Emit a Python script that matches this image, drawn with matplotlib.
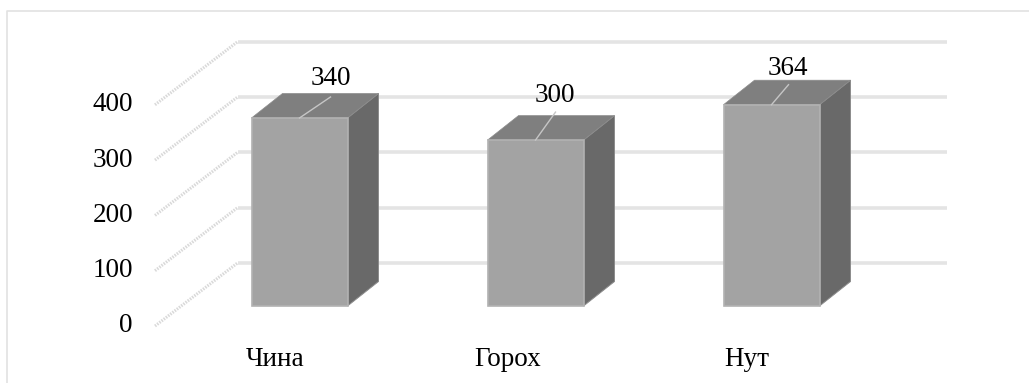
import matplotlib
matplotlib.use("Agg")
import matplotlib.pyplot as plt
from matplotlib.patches import Polygon, Rectangle

categories = ["Чина", "Горох", "Нут"]
values = [340, 300, 364]
y_ticks = [0, 100, 200, 300, 400]

W, H = 1029, 383
PX_PER_UNIT = 0.553
SLOT = 236.0
BASE_PX = 306.0       # pixel row of a bar's front foot
FIRST_PX = 299.5      # pixel column of the first bar's centre

plt.rcParams["font.family"] = "Liberation Serif"
FONT = 19.5

fig = plt.figure(figsize=(W / 100, H / 100), dpi=100, facecolor="white")
ax = fig.add_axes([0, 0, 1, 1])
ax.set_xlim(-FIRST_PX / SLOT, (W - FIRST_PX) / SLOT)
ax.set_ylim(-(H - BASE_PX) / PX_PER_UNIT, BASE_PX / PX_PER_UNIT)
ax.set_autoscale_on(False)
ax.axis("off")


def X(px):
    """Horizontal pixel distance expressed in category units."""
    return px / SLOT


def Y(px):
    """Vertical pixel distance expressed in value units."""
    return px / PX_PER_UNIT


# Panel frame along the top and left
fig.add_artist(plt.Line2D([7 / W, 7 / W, 1], [0, 1 - 10.5 / H, 1 - 10.5 / H],
                          color="#e2e2e2", lw=1.2, transform=fig.transFigure))

# Floor edge of the value wall, and the back wall it leads to
floor_x = X(155 - FIRST_PX)
floor_dy = Y(BASE_PX - 326)
back_x = X(237.5 - FIRST_PX)
back_dy = Y(BASE_PX - 263)
end_x = X(947 - FIRST_PX)
for v in y_ticks:
    ax.plot([floor_x, back_x], [v + floor_dy, v + back_dy], color="#d9d9d9", lw=2.2,
            ls=(0, (0.5, 0.4)), dash_capstyle="butt", zorder=1)
    ax.plot([back_x, end_x], [v + back_dy, v + back_dy], color="#e4e4e4", lw=2.6,
            solid_capstyle="butt", zorder=1)
    ax.text(floor_x - X(22), v + floor_dy, str(v), ha="right", va="center",
            fontsize=FONT, color="black")

# Bars as three visible faces, with a leader to each value label
half = X(48)
dx, dy = X(31), Y(24.5)
leader_tips = [(31, 21), (20, 28), (17, 20)]
label_gaps = [(31.5, 39), (19.5, 45), (16.5, 36)]
name_shift = [-24.5, -27.5, -24.5]
for i, (name, v) in enumerate(zip(categories, values)):
    l, r = i - half, i + half
    ax.add_patch(Polygon([(r, 0), (r + dx, dy), (r + dx, v + dy), (r, v)],
                         fc="#696969", ec="#8c8c8c", lw=0.7, zorder=3))
    ax.add_patch(Polygon([(l, v), (r, v), (r + dx, v + dy), (l + dx, v + dy)],
                         fc="#7f7f7f", ec="#8c8c8c", lw=0.5, zorder=3))
    ax.add_patch(Rectangle((l, 0), r - l, v, fc="#a3a3a3", ec="#b2b2b2", lw=1.2, zorder=3))
    tip_x, tip_y = leader_tips[i]
    ax.plot([i, i + X(tip_x)], [v, v + Y(tip_y)], color="#c6c6c6", lw=1, zorder=4)
    gap_x, gap_y = label_gaps[i]
    ax.text(i + X(gap_x), v + Y(gap_y), str(v), ha="center", va="center",
            fontsize=FONT, color="black", zorder=5)
    ax.text(i + X(name_shift[i]), Y(BASE_PX - 359), name, ha="center", va="center",
            fontsize=FONT, color="black")

fig.savefig("out.png", dpi=100, facecolor="white")
